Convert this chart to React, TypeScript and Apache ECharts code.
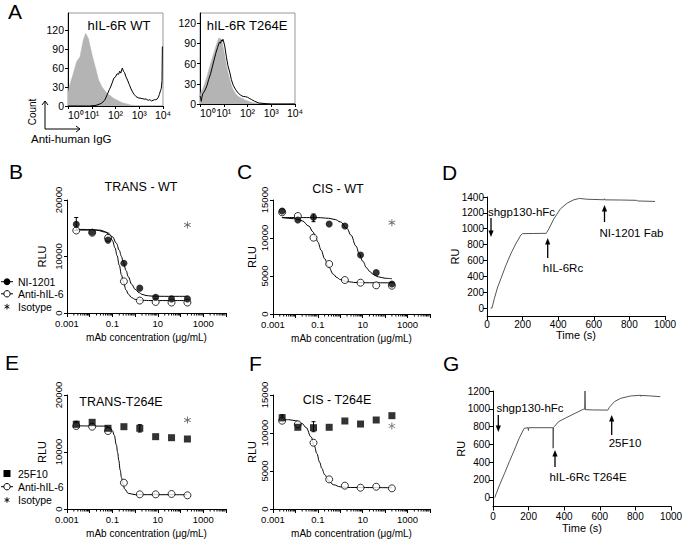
import React, { useEffect, useRef } from 'react';
import * as echarts from 'echarts';

const FONT = 'Liberation Sans, Arial, Helvetica, sans-serif';

// ---------- Panel A : flow histograms [fluorescence, count] ----------
const A_X_TICKS = ['10\u2070', '10\u00B9', '10\u00B2', '10\u00B3', '10\u2074'];
const A_Y_TICKS = [0, 30, 60, 90, 120];
const A_WT_ISOTYPE = [[1, 22], [1.17, 33], [1.6, 49], [2.3, 70], [3.2, 78], [4.4, 104], [5.5, 115], [7.2, 107], [10, 83], [14, 62], [19.5, 41], [27, 30], [44, 20], [85, 12], [195, 5], [450, 1.5], [800, 0], [10000, 0]];
const A_WT_ANTI = [[1, 0], [8, 0], [15, 1], [25, 4], [35, 9], [45, 18], [55, 26], [62, 30], [75, 38], [85, 44], [100, 46], [117, 51], [135, 50], [150, 55], [166, 52], [185, 58], [195, 60], [215, 55], [240, 53], [270, 47], [320, 41], [380, 34], [450, 27], [525, 22], [620, 18], [725, 15], [900, 13], [1200, 12], [1600, 11], [1950, 11], [2400, 9], [2800, 10], [3300, 8], [3800, 9], [4400, 10], [5000, 10], [5600, 11], [6200, 13], [7000, 18], [7800, 24], [8500, 28], [9100, 40], [9400, 94], [10000, 94]];
const A_T264E_ISOTYPE = [[1, 12], [1.1, 18], [1.26, 21], [1.5, 28], [1.78, 36], [2.1, 44], [2.45, 53], [2.9, 62], [3.4, 70], [4.1, 79], [4.8, 87], [5.5, 93], [6.2, 98], [7, 97], [7.9, 96], [9, 88], [10, 80], [11.5, 68], [12.9, 58], [15, 47], [18.2, 36], [21, 28], [25, 21], [32, 15], [41, 11], [60, 8], [79, 6], [120, 3.5], [182, 1.5], [300, 0.5], [500, 0], [10000, 0]];
const A_T264E_ANTI = [[1, 12], [1.07, 9], [1.13, 4], [1.2, 10], [1.3, 15], [1.5, 18], [1.65, 21], [2, 28], [2.3, 36], [2.8, 45], [3.3, 55], [3.9, 65], [4.6, 75], [5.5, 84], [6.6, 92], [7.3, 90], [8, 95], [8.6, 93], [9.2, 96], [10, 92], [11, 86], [12.9, 70], [15, 57], [18.2, 46], [21, 36], [25, 28], [32, 21], [41, 16], [52, 13], [66, 11], [80, 11], [100, 10], [125, 8], [150, 6.5], [200, 4], [300, 1.5], [600, 0.5], [1000, 0], [10000, 0]];

// ---------- Panels B, C, E, F : dose response ----------
const CONC = [0.00256, 0.0128, 0.064, 0.32, 1.6, 8, 40, 200];
const X_TICK_VALUES = [0.001, 0.1, 10, 1000];
const X_TICK_LABELS = ['0.001', '0.1', '10', '1000'];

const B_NI1201 = [15700, 14300, 12900, 8800, 4400, 2800, 2500, 2500];
const B_ANTI = [14600, 14200, 13300, 5600, 2200, 1950, 1850, 1850];
const B_ISOTYPE = [[200, 15580]];
const B_ERR = [[0.00256, 14600, 16900]];
const B_CURVE_NI = [[0.0025, 14800], [0.01, 14780], [0.03, 14650], [0.06, 14250], [0.1, 13500], [0.15, 12350], [0.2, 11100], [0.25, 10000], [0.3, 9000], [0.4, 7500], [0.5, 6400], [0.7, 5100], [1, 4200], [1.5, 3600], [2, 3300], [3, 3100], [5, 3000], [20, 2950], [200, 2950]];
const B_CURVE_ANTI = [[0.0025, 14700], [0.02, 14660], [0.05, 14320], [0.08, 13550], [0.1, 12820], [0.13, 11530], [0.16, 10150], [0.2, 8450], [0.25, 6750], [0.3, 5530], [0.4, 4080], [0.5, 3350], [0.7, 2720], [1, 2420], [2, 2240], [5, 2200], [200, 2200]];

const C_NI1201 = [13550, 12370, 12720, 11840, 11580, 7760, 5440, 3950];
const C_ANTI = [13380, 12890, 10040, 6580, 4470, 4120, 3770, 3720];
const C_ISOTYPE = [[200, 12020]];
const C_ERR = [[0.064, 12150, 13160]];
const C_CURVE_NI = [[0.0025, 12700], [0.1, 12680], [0.3, 12600], [0.6, 12420], [1, 12120], [2, 11240], [3, 10370], [5, 8940], [7, 7930], [10, 6950], [15, 6070], [20, 5620], [30, 5200], [50, 4890], [100, 4700], [200, 4640]];
const C_CURVE_ANTI = [[0.0025, 12680], [0.01, 12540], [0.02, 12260], [0.04, 11560], [0.06, 10810], [0.08, 10110], [0.1, 9460], [0.14, 8400], [0.2, 7270], [0.3, 6180], [0.5, 5210], [0.7, 4800], [1, 4530], [2, 4260], [5, 4140], [20, 4110], [200, 4100]];

const E_25F10 = [14860, 15210, 14160, 14440, 14160, 12690, 12510, 12280];
const E_ANTI = [14560, 14440, 13680, 4610, 2570, 2570, 2630, 2400];
const E_ISOTYPE = [[200, 15610]];
const E_ERR = [[0.00256, 14300, 15400], [1.6, 13500, 14800]];
const E_CURVE_ANTI = [[0.0025, 14600], [0.05, 14540], [0.08, 14230], [0.1, 13740], [0.12, 12940], [0.15, 11220], [0.17, 9870], [0.19, 8550], [0.22, 6820], [0.25, 5530], [0.29, 4390], [0.35, 3470], [0.5, 2750], [1, 2516], [200, 2500]];

const F_25F10 = [12010, 10750, 10700, 10750, 11580, 11180, 11710, 12280];
const F_ANTI = [11620, 11140, 8720, 3900, 3070, 2800, 2930, 2720];
const F_ISOTYPE = [[200, 10920]];
const F_ERR = [[0.00256, 11500, 12400], [0.064, 10170, 11490]];
const F_CURVE_ANTI = [[0.0025, 11790], [0.005, 11750], [0.01, 11630], [0.02, 11240], [0.03, 10710], [0.05, 9480], [0.07, 8300], [0.09, 7300], [0.12, 6160], [0.15, 5360], [0.2, 4530], [0.3, 3720], [0.5, 3190], [1, 2920], [2, 2830], [200, 2800]];

// ---------- Panels D, G : SPR sensorgrams [time s, RU] ----------
const D_Y_TICKS = [0, 200, 400, 600, 800, 1000, 1200, 1400];
const G_Y_TICKS = [0, 200, 400, 600, 800, 1000, 1200];
const D_TRACE = [[20, 0], [28, 0], [41, 118], [60, 265], [78, 370], [106, 538], [134, 685], [162, 811], [190, 920], [200, 938], [260, 940], [333, 942], [336, 955], [348, 1000], [376, 1126], [413, 1252], [451, 1323], [488, 1365], [520, 1382], [560, 1372], [658, 1365], [660, 1378], [662, 1364], [750, 1362], [842, 1358], [845, 1350], [944, 1344]];
const G_TRACE = [[10, 0], [19, 49], [37, 143], [65, 274], [92, 405], [120, 536], [147, 668], [175, 780], [197, 787], [199, 755], [201, 787], [337, 787], [338, 556], [340, 790], [345, 800], [368, 855], [405, 893], [461, 949], [507, 994], [515, 995], [517, 1200], [519, 990], [560, 987], [645, 985], [654, 1017], [682, 1080], [718, 1118], [773, 1144], [829, 1152], [830, 1140], [831, 1150], [880, 1145], [940, 1136]];

// log-axis minor tick positions (axis decoration)
const MINOR_TICKS: number[] = [];
for (let k = -3; k <= 3; k++) for (let m = 2; m <= 9; m++) MINOR_TICKS.push(+(m * Math.pow(10, k)).toPrecision(3));

const STAR = 'path://M-0.6,-5L0.6,-5L0.6,5L-0.6,5Z M4.03,3.02L-4.63,-1.98L-4.03,-3.02L4.63,1.98Z M4.63,-1.98L-4.03,3.02L-4.63,1.98L4.03,-3.02Z';

const LINE = { color: '#000', width: 1 };
const labelStyle = (size: number, margin: number) => ({ color: '#000', fontFamily: FONT, fontSize: size, margin });
const plain = (v: number) => String(v);

function baseAxis(gridIndex: number) {
  return {
    gridIndex,
    axisLine: { show: true, onZero: false, lineStyle: LINE },
    axisTick: { show: true, length: 3, lineStyle: LINE },
    splitLine: { show: false },
    nameMoveOverlap: false,
  };
}

const concLabel = (v: number) => {
  for (let i = 0; i < X_TICK_VALUES.length; i++) {
    if (Math.abs(Math.log10(v) - Math.log10(X_TICK_VALUES[i])) < 0.01) return X_TICK_LABELS[i];
  }
  return '';
};

function histX(g: number) {
  return {
    ...baseAxis(g), type: 'log', logBase: 10, min: 1, max: 10000,
    axisLabel: { ...labelStyle(10.5, 3), alignMinLabel: 'left', formatter: (v: number) => A_X_TICKS[Math.round(Math.log10(v))] ?? '' },
  };
}
function histY(g: number, max: number) {
  return {
    ...baseAxis(g), type: 'value', min: 0, max,
    axisTick: { show: true, length: 3, lineStyle: LINE, customValues: A_Y_TICKS },
    axisLabel: { ...labelStyle(10.5, 4), customValues: A_Y_TICKS, formatter: (v: number) => (v % 30 === 0 && v <= 120 ? String(v) : '') },
  };
}
function concX(g: number) {
  return {
    ...baseAxis(g), type: 'log', logBase: 10, min: 0.001, max: 10000,
    name: 'mAb concentration (\u03BCg/mL)', nameLocation: 'middle', nameGap: 19,
    nameTextStyle: { color: '#000', fontFamily: FONT, fontSize: 10 },
    axisTick: { show: true, length: 4, lineStyle: LINE },
    axisLabel: { ...labelStyle(9.5, 5), formatter: concLabel },
  };
}
function rluY(g: number, max: number, interval: number, gap: number) {
  return {
    ...baseAxis(g), type: 'value', min: 0, max, interval,
    name: 'RLU', nameLocation: 'middle', nameGap: gap,
    nameTextStyle: { color: '#000', fontFamily: FONT, fontSize: 11 },
    axisLabel: { ...labelStyle(9.5, 4), rotate: 90, formatter: plain },
  };
}
function timeX(g: number, margin: number, gap: number) {
  return {
    ...baseAxis(g), type: 'value', min: 0, max: 1000, interval: 200,
    name: 'Time (s)', nameLocation: 'middle', nameGap: gap,
    nameTextStyle: { color: '#000', fontFamily: FONT, fontSize: 11 },
    axisTick: { show: true, length: 4, lineStyle: LINE },
    axisLabel: { ...labelStyle(10, margin), formatter: plain },
  };
}
function ruY(g: number, max: number, ticks: number[]) {
  return {
    ...baseAxis(g), type: 'value', min: -100, max,
    name: 'RU', nameLocation: 'middle', nameGap: 27,
    nameTextStyle: { color: '#000', fontFamily: FONT, fontSize: 11 },
    axisTick: { show: true, length: 4, lineStyle: LINE, customValues: ticks },
    axisLabel: { ...labelStyle(10, 3), customValues: ticks, formatter: (v: number) => (ticks.indexOf(v) >= 0 ? String(v) : '') },
  };
}

const pairs = (ys: number[]) => CONC.map((x, i) => [x, ys[i]]);

function curve(g: number, data: number[][]) {
  return { type: 'line', xAxisIndex: g, yAxisIndex: g, data, symbol: 'none', smooth: 0.4, smoothMonotone: 'x', lineStyle: { color: '#000', width: 1 }, silent: true, z: 2 };
}
function filled(g: number, ys: number[], symbol = 'circle') {
  return { type: 'scatter', xAxisIndex: g, yAxisIndex: g, data: pairs(ys), symbol, symbolSize: 7, itemStyle: { color: '#000' }, silent: true, z: 5 };
}
function open(g: number, ys: number[]) {
  return { type: 'scatter', xAxisIndex: g, yAxisIndex: g, data: pairs(ys), symbol: 'circle', symbolSize: 7, itemStyle: { color: '#fff', borderColor: '#000', borderWidth: 1 }, silent: true, z: 4 };
}
function star(g: number, data: number[][]) {
  return { type: 'scatter', xAxisIndex: g, yAxisIndex: g, data, symbol: STAR, symbolSize: 7, itemStyle: { color: '#444' }, silent: true, z: 5 };
}
function errBars(g: number, data: number[][]) {
  return {
    type: 'custom', xAxisIndex: g, yAxisIndex: g, data, silent: true, z: 3, clip: false,
    encode: { x: 0, y: [1, 2] },
    renderItem: (_p: any, api: any) => {
      const x = api.value(0);
      const a = api.coord([x, api.value(1)]);
      const b = api.coord([x, api.value(2)]);
      const st = { stroke: '#000', lineWidth: 1 };
      return {
        type: 'group', children: [
          { type: 'line', shape: { x1: a[0], y1: a[1], x2: b[0], y2: b[1] }, style: st },
          { type: 'line', shape: { x1: b[0] - 2, y1: b[1], x2: b[0] + 2, y2: b[1] }, style: st },
          { type: 'line', shape: { x1: a[0] - 2, y1: a[1], x2: a[0] + 2, y2: a[1] }, style: st },
        ],
      };
    },
  };
}
function minorTicks(g: number) {
  return {
    type: 'custom', xAxisIndex: g, yAxisIndex: g, data: MINOR_TICKS.map((v) => [v, 0]), silent: true, clip: false, z: 1,
    renderItem: (_p: any, api: any) => {
      const p = api.coord([api.value(0), 0]);
      return { type: 'line', shape: { x1: p[0], y1: p[1], x2: p[0], y2: p[1] + 2.5 }, style: { stroke: '#000', lineWidth: 1 } };
    },
  };
}
function histArea(g: number, data: number[][]) {
  return { type: 'line', xAxisIndex: g, yAxisIndex: g, data, symbol: 'none', lineStyle: { color: '#b4b4b4', width: 0.5 }, areaStyle: { color: '#b4b4b4', opacity: 1 }, silent: true, z: 2 };
}
function histLine(g: number, data: number[][]) {
  return { type: 'line', xAxisIndex: g, yAxisIndex: g, data, symbol: 'none', lineStyle: { color: '#000', width: 1 }, silent: true, z: 3 };
}
function trace(g: number, data: number[][]) {
  return { type: 'line', xAxisIndex: g, yAxisIndex: g, data, symbol: 'none', lineStyle: { color: '#555', width: 1 }, silent: true, z: 2 };
}

// ---------- graphic helpers ----------
const txt = (text: string, x: number, y: number, size: number, align = 'center', rotation = 0) => ({
  type: 'text', x, y, rotation, silent: true,
  style: { text, fontSize: size, fontFamily: FONT, fill: '#000', align, verticalAlign: 'middle' },
});
const seg = (x1: number, y1: number, x2: number, y2: number, w = 1) => ({
  type: 'line', silent: true, shape: { x1, y1, x2, y2 }, style: { stroke: '#000', lineWidth: w },
});
const arrow = (x: number, yTail: number, yHead: number) => {
  const d = yHead < yTail ? -1 : 1;
  return [
    seg(x, yTail, x, yHead - d * 5, 1.3),
    { type: 'polygon', silent: true, shape: { points: [[x, yHead], [x - 2.6, yHead - d * 6.5], [x + 2.6, yHead - d * 6.5]] }, style: { fill: '#000' } },
  ];
};
const legendStar = (x: number, y: number) => [
  seg(x, y - 2.8, x, y + 2.8, 0.9),
  seg(x - 2.4, y - 1.4, x + 2.4, y + 1.4, 0.9),
  seg(x - 2.4, y + 1.4, x + 2.4, y - 1.4, 0.9),
];

export default function App() {
  const ref = useRef<HTMLDivElement>(null);
  useEffect(() => {
    if (!ref.current) return;
    const chart = echarts.init(ref.current, null, { renderer: 'svg' });

    const grids = [
      { left: 68, top: 13, width: 95, height: 93, show: true, borderColor: '#999', borderWidth: 1 },
      { left: 200, top: 13, width: 95, height: 91, show: true, borderColor: '#999', borderWidth: 1 },
      { left: 67, top: 200, width: 159, height: 113 },
      { left: 273, top: 200, width: 157, height: 114 },
      { left: 487, top: 197, width: 178, height: 119 },
      { left: 67, top: 395, width: 159, height: 114 },
      { left: 273, top: 395, width: 157, height: 114 },
      { left: 493, top: 391, width: 178, height: 115.5 },
    ].map((g) => ({ containLabel: false, outerBoundsMode: 'none', ...g }));

    const xAxis = [histX(0), histX(1), concX(2), concX(3), timeX(4, 3, 13), concX(5), concX(6), timeX(7, 5, 16)];
    const yAxis = [histY(0, 147), histY(1, 135), rluY(2, 20000, 10000, 20), rluY(3, 15000, 5000, 16), ruY(4, 1400, D_Y_TICKS), rluY(5, 20000, 10000, 20), rluY(6, 15000, 5000, 16), ruY(7, 1200, G_Y_TICKS)];

    const series: any[] = [
      histArea(0, A_WT_ISOTYPE), histLine(0, A_WT_ANTI),
      histArea(1, A_T264E_ISOTYPE), histLine(1, A_T264E_ANTI),
      // B
      curve(2, B_CURVE_NI), curve(2, B_CURVE_ANTI), errBars(2, B_ERR), open(2, B_ANTI), filled(2, B_NI1201), star(2, B_ISOTYPE), minorTicks(2),
      // C
      curve(3, C_CURVE_NI), curve(3, C_CURVE_ANTI), errBars(3, C_ERR), open(3, C_ANTI), filled(3, C_NI1201), star(3, C_ISOTYPE), minorTicks(3),
      // D
      trace(4, D_TRACE),
      // E
      curve(5, E_CURVE_ANTI), errBars(5, E_ERR), open(5, E_ANTI), filled(5, E_25F10, 'rect'), star(5, E_ISOTYPE), minorTicks(5),
      // F
      curve(6, F_CURVE_ANTI), errBars(6, F_ERR), open(6, F_ANTI), filled(6, F_25F10, 'rect'), star(6, F_ISOTYPE), minorTicks(6),
      // G
      trace(7, G_TRACE),
    ];

    const graphics: any[] = [
      // panel letters
      txt('A', 8, 11, 21, 'left'), txt('B', 9, 171, 21, 'left'), txt('C', 237, 171, 21, 'left'), txt('D', 442, 172, 21, 'left'),
      txt('E', 5, 362, 21, 'left'), txt('F', 249, 363, 21, 'left'), txt('G', 443, 363, 21, 'left'),
      // A
      txt('hIL-6R WT', 119, 25, 13), txt('hIL-6R T264E', 247, 25, 13),
      txt('Count', 32, 112, 10, 'center', Math.PI / 2),
      seg(45, 129, 45, 101), { type: 'polyline', silent: true, shape: { points: [[42, 105], [45, 101], [48, 105]] }, style: { stroke: '#000', fill: 'none', lineWidth: 1 } },
      seg(45, 129, 80, 129), { type: 'polyline', silent: true, shape: { points: [[76, 126], [80, 129], [76, 132]] }, style: { stroke: '#000', fill: 'none', lineWidth: 1 } },
      txt('Anti-human IgG', 31, 139, 11.5, 'left'),
      // titles
      txt('TRANS - WT', 141, 187, 12.5), txt('CIS - WT', 338, 189, 12.5),
      txt('TRANS-T264E', 121, 402, 12.5), txt('CIS - T264E', 337, 400, 12.5),
      // legend B
      seg(1, 281.7, 13, 281.7), { type: 'circle', silent: true, shape: { cx: 7, cy: 281.7, r: 3.4 }, style: { fill: '#000' } }, txt('NI-1201', 18, 281.7, 10.5, 'left'),
      seg(1, 293.8, 13, 293.8), { type: 'circle', silent: true, shape: { cx: 7, cy: 293.8, r: 3.2 }, style: { fill: '#fff', stroke: '#000', lineWidth: 1 } }, txt('Anti-hIL-6', 18, 293.8, 10.5, 'left'),
      ...legendStar(7, 306.7), txt('Isotype', 18, 306.7, 10.5, 'left'),
      // legend E
      { type: 'rect', silent: true, shape: { x: 3.5, y: 470, width: 7, height: 7 }, style: { fill: '#000' } }, txt('25F10', 18, 473.5, 10.5, 'left'),
      seg(1, 486.7, 13, 486.7), { type: 'circle', silent: true, shape: { cx: 7, cy: 486.7, r: 3.2 }, style: { fill: '#fff', stroke: '#000', lineWidth: 1 } }, txt('Anti-hIL-6', 18, 486.7, 10.5, 'left'),
      ...legendStar(7, 500), txt('Isotype', 18, 500, 10.5, 'left'),
      // D annotations
      txt('shgp130-hFc', 521.5, 212, 11.5), ...arrow(491, 218, 237),
      txt('hIL-6Rc', 563, 268, 11.5), ...arrow(547.7, 258, 238),
      txt('NI-1201 Fab', 631.5, 233, 11.5), ...arrow(604.5, 222, 205),
      // G annotations
      txt('shgp130-hFc', 530, 408, 11.5), ...arrow(498.3, 415, 432),
      txt('hIL-6Rc T264E', 588, 477, 11.5), ...arrow(555, 467, 450),
      txt('25F10', 625, 443, 11.5), ...arrow(611.7, 435, 415),
    ];

    chart.setOption({
      animation: false,
      backgroundColor: '#fff',
      textStyle: { fontFamily: FONT },
      grid: grids,
      xAxis,
      yAxis,
      series,
      graphic: graphics,
    });
    return () => chart.dispose();
  }, []);
  return <div ref={ref} style={{ position: 'absolute', left: 0, top: 0, width: 683, height: 539, background: '#fff' }} />;
}
